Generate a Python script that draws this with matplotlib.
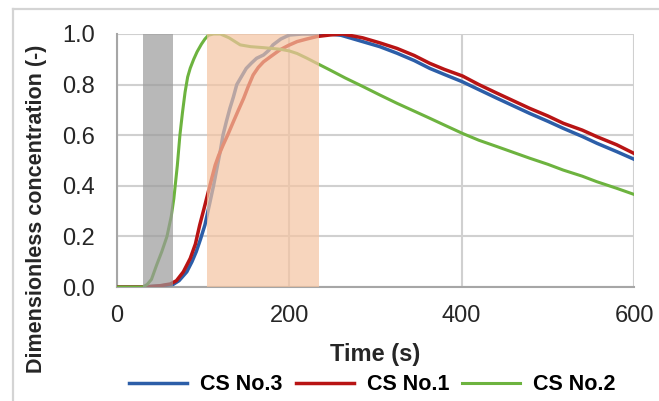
import matplotlib
matplotlib.use("Agg")
import matplotlib.pyplot as plt
from matplotlib.lines import Line2D

plt.rcParams['font.family'] = ['Liberation Sans', 'DejaVu Sans']

# CS No.3 (blue)
t_cs3 = [0, 30, 50, 65, 72, 81, 87, 92, 97, 102, 108, 112, 116, 120, 123, 127, 131, 135, 139, 145,
         150, 156, 162, 170, 176, 181, 190, 200, 215, 230, 247, 260, 285, 305, 325, 345, 363,
         380, 401, 420, 441, 460, 479, 500, 518, 540, 557, 580, 600]
v_cs3 = [0, 0, 0.004, 0.01, 0.025, 0.06, 0.1, 0.14, 0.19, 0.245, 0.337, 0.4, 0.47, 0.54, 0.6,
         0.655, 0.706, 0.75, 0.8, 0.835, 0.864, 0.885, 0.904, 0.917, 0.935, 0.957, 0.98, 0.996,
         1.0, 1.0, 1.0, 0.995, 0.97, 0.95, 0.924, 0.895, 0.864, 0.84, 0.811, 0.78, 0.746, 0.716,
         0.686, 0.655, 0.627, 0.595, 0.568, 0.535, 0.505]

# CS No.1 (red)
t_cs1 = [0, 30, 50, 62, 69, 77, 85, 91, 96, 101, 106, 110, 114, 118, 123, 129, 135, 141, 147,
         152, 158, 164, 170, 180, 189, 199, 209, 220, 232, 247, 262, 285, 305, 325, 345, 363,
         380, 401, 420, 441, 460, 479, 500, 518, 540, 557, 580, 600]
v_cs1 = [0, 0, 0.005, 0.012, 0.025, 0.06, 0.113, 0.17, 0.245, 0.31, 0.377, 0.43, 0.482, 0.52,
         0.56, 0.605, 0.653, 0.7, 0.746, 0.79, 0.838, 0.868, 0.89, 0.915, 0.937, 0.955, 0.97,
         0.98, 0.99, 0.996, 1.0, 0.985, 0.965, 0.943, 0.915, 0.884, 0.86, 0.834, 0.8, 0.766,
         0.736, 0.706, 0.676, 0.647, 0.62, 0.594, 0.562, 0.528]

# CS No.2 (green)
t_cs2 = [0, 30, 35, 40, 46, 52, 58, 63, 66, 70, 73, 76, 79, 82, 85, 89, 93, 98, 102, 106, 112,
         120, 130, 143, 155, 170, 189, 200, 209, 220, 232, 247, 265, 285, 305, 325, 345, 363,
         380, 401, 420, 441, 460, 479, 500, 518, 540, 557, 580, 600]
v_cs2 = [0, 0, 0.01, 0.03, 0.087, 0.14, 0.2, 0.28, 0.35, 0.48, 0.6, 0.69, 0.77, 0.83, 0.865,
         0.9, 0.93, 0.96, 0.98, 0.995, 1.0, 1.0, 0.985, 0.957, 0.95, 0.946, 0.94, 0.933, 0.923,
         0.905, 0.884, 0.858, 0.826, 0.793, 0.759, 0.726, 0.695, 0.667, 0.64, 0.607, 0.58, 0.555,
         0.532, 0.509, 0.485, 0.462, 0.438, 0.416, 0.39, 0.366]

x_ticks = [0, 200, 400, 600]
y_ticks = [0.0, 0.2, 0.4, 0.6, 0.8, 1.0]
gray_band = (30.5, 65.3)
orange_band = (105, 234)

fig = plt.figure(figsize=(6.59, 4.01), dpi=100)
ax = fig.add_axes([117 / 659, 1 - 287 / 401, 517 / 659, 253 / 401])

# chart-area frame (only left and top edges visible)
fig.add_artist(Line2D([13 / 659, 13 / 659], [0, 1 - 9 / 401], transform=fig.transFigure,
                      color='#d4d4d4', lw=1.6))
fig.add_artist(Line2D([13 / 659, 1], [1 - 9 / 401, 1 - 9 / 401], transform=fig.transFigure,
                      color='#d4d4d4', lw=1.6))

ax.plot(t_cs3, v_cs3, color='#2C5EA8', lw=2.5, label='CS No.3', zorder=3)
ax.plot(t_cs1, v_cs1, color='#B81414', lw=2.5, label='CS No.1', zorder=3)
ax.plot(t_cs2, v_cs2, color='#6DB33F', lw=2.2, label='CS No.2', zorder=3)

ax.axvspan(*gray_band, color='#9a9a9a', alpha=0.7, lw=0, zorder=4)
ax.axvspan(*orange_band, color='#F5C4A1', alpha=0.7, lw=0, zorder=4)

ax.set_xlim(0, 600)
ax.set_ylim(0, 1.0)
ax.set_xticks(x_ticks)
ax.set_yticks(y_ticks)
ax.set_yticklabels([f'{v:.1f}' for v in y_ticks])
ax.grid(True, color='#d0d0d0', lw=1.5, zorder=0)
ax.set_axisbelow(True)
for side in ['top', 'right']:
    ax.spines[side].set_visible(False)
for side in ['left', 'bottom']:
    ax.spines[side].set_color('#a6a6a6')
    ax.spines[side].set_linewidth(1.5)
ax.tick_params(length=0, labelsize=17, labelcolor='#262626')
ax.tick_params(axis='x', pad=13)
ax.tick_params(axis='y', pad=16)

ax.set_xlabel('Time (s)', fontsize=17, fontweight='bold', color='#262626')
ax.xaxis.set_label_coords(0.499, -0.22)
ax.set_ylabel('Dimensionless concentration (-)', fontsize=15.5, fontweight='bold',
              color='#262626')
ax.yaxis.set_label_coords(-0.135, 0.31)

fig.legend(loc='center', bbox_to_anchor=(0.565, 0.04), ncol=3, frameon=False,
           prop={'weight': 'bold', 'size': 15.5}, handlelength=2.7, columnspacing=0.6,
           handletextpad=0.6)

fig.savefig('out.png', dpi=100)
